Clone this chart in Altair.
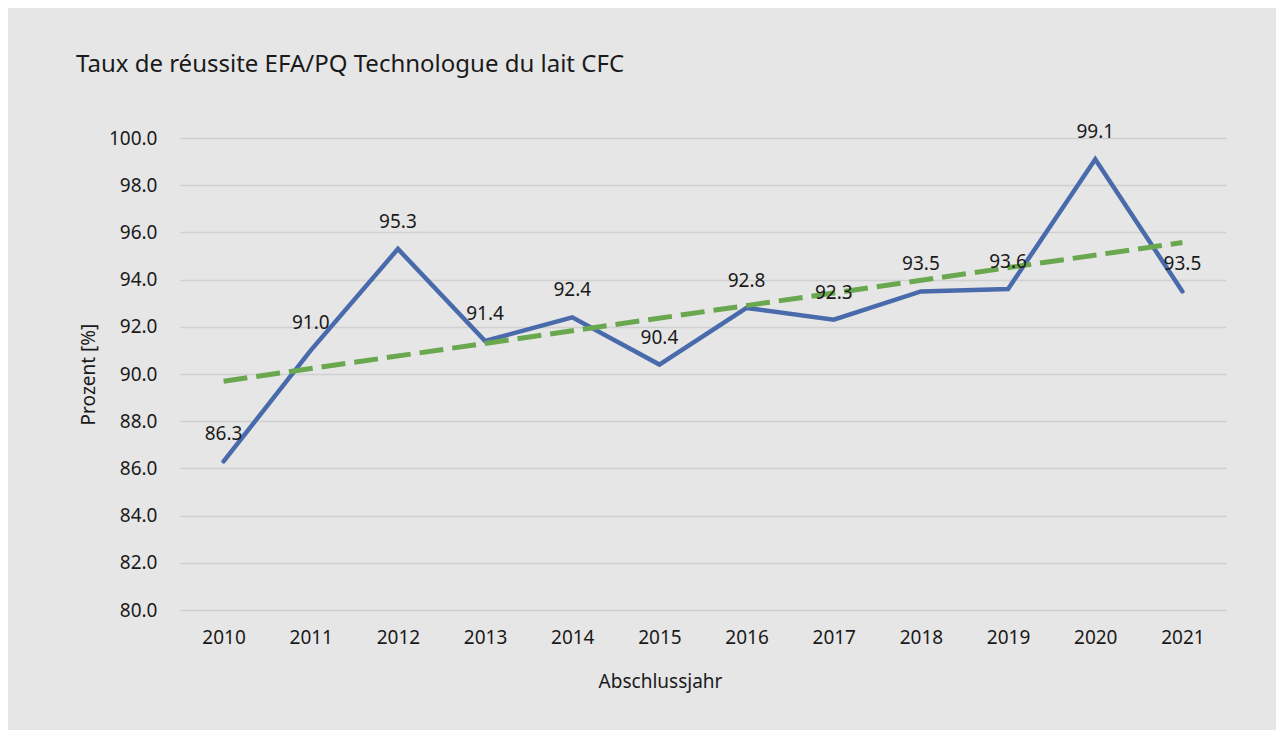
import altair as alt
import pandas as pd

years = [2010, 2011, 2012, 2013, 2014, 2015, 2016, 2017, 2018, 2019, 2020, 2021]
values = [86.3, 91.0, 95.3, 91.4, 92.4, 90.4, 92.8, 92.3, 93.5, 93.6, 99.1, 93.5]

df = pd.DataFrame({"year": years, "value": values})

FONT = "Noto Sans"
TXT = "#1a1a1a"

x_enc = alt.X(
    "year:O",
    title="Abschlussjahr",
    scale=alt.Scale(type="point", padding=0.5),
    axis=alt.Axis(labelAngle=0, ticks=False, domain=False, grid=False,
                  labelPadding=18, titlePadding=25, titleX=480, titleAlign="center"),
)
y_enc = alt.Y(
    "value:Q",
    title="Prozent [%]",
    scale=alt.Scale(domain=[80, 100], nice=False, zero=False),
    axis=alt.Axis(values=list(range(80, 101, 2)), format=".1f", ticks=False,
                  domain=False, labelPadding=23, titlePadding=10,
                  gridColor="#d0d0d0", gridWidth=1.5),
)

base = alt.Chart(df)

line = base.mark_line(color="#4a6bab", strokeWidth=4.5, strokeJoin="miter",
                      strokeCap="round").encode(x=x_enc, y=y_enc)

trend = base.transform_regression("year", "value").mark_line(
    color="#6aa84f", strokeWidth=5, strokeDash=[24, 9], strokeCap="butt"
).encode(x=x_enc, y=y_enc)

labels = base.mark_text(dy=-27, fontSize=19, color=TXT, font=FONT).encode(
    x=x_enc, y=y_enc, text=alt.Text("value:Q", format=".1f")
)

chart = (
    alt.layer(line, trend, labels)
    .properties(
        width=1046,
        height=472,
        background="#e6e6e6",
        padding={"left": 172, "top": 130, "right": 50, "bottom": 120},
        autosize=alt.AutoSizeParams(type="none"),
        title=alt.TitleParams(
            "Taux de réussite EFA/PQ Technologue du lait CFC",
            anchor="start", frame="group", dx=-104, offset=46,
            fontSize=24, fontWeight="normal", font=FONT, color=TXT,
        ),
    )
    .configure_view(stroke=None)
    .configure_axis(labelFont=FONT, titleFont=FONT, labelFontSize=19, titleFontSize=19,
                    labelColor=TXT, titleColor=TXT, titleFontWeight="normal")
)

chart.save("out.html", embed_options={"renderer": "svg", "actions": False})
